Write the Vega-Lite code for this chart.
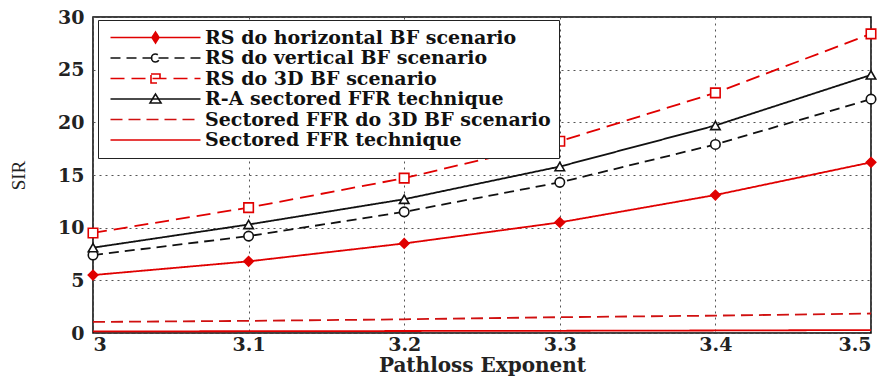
{
  "$schema": "https://vega.github.io/schema/vega-lite/v6.json",
  "width": 778,
  "height": 316,
  "autosize": {"type": "none"},
  "padding": {"left": 93, "top": 17, "right": 20, "bottom": 46},
  "background": "white",
  "config": {
    "view": {"stroke": "black", "strokeWidth": 1.5},
    "font": "DejaVu Serif",
    "axis": {
      "labelFont": "DejaVu Serif",
      "labelFontWeight": "bold",
      "labelFontSize": 19,
      "labelColor": "#222",
      "grid": true,
      "gridColor": "#555",
      "gridDash": [2, 4],
      "gridWidth": 1,
      "domain": false,
      "ticks": false,
      "titleColor": "#222"
    }
  },
  "data": {
    "values": [
      {"series": "RS do horizontal BF scenario", "x": 3.0, "y": 5.5},
      {"series": "RS do horizontal BF scenario", "x": 3.1, "y": 6.8},
      {"series": "RS do horizontal BF scenario", "x": 3.2, "y": 8.5},
      {"series": "RS do horizontal BF scenario", "x": 3.3, "y": 10.5},
      {"series": "RS do horizontal BF scenario", "x": 3.4, "y": 13.1},
      {"series": "RS do horizontal BF scenario", "x": 3.5, "y": 16.2},
      {"series": "RS do vertical BF scenario", "x": 3.0, "y": 7.4},
      {"series": "RS do vertical BF scenario", "x": 3.1, "y": 9.2},
      {"series": "RS do vertical BF scenario", "x": 3.2, "y": 11.5},
      {"series": "RS do vertical BF scenario", "x": 3.3, "y": 14.3},
      {"series": "RS do vertical BF scenario", "x": 3.4, "y": 17.9},
      {"series": "RS do vertical BF scenario", "x": 3.5, "y": 22.2},
      {"series": "RS do 3D BF scenario", "x": 3.0, "y": 9.5},
      {"series": "RS do 3D BF scenario", "x": 3.1, "y": 11.9},
      {"series": "RS do 3D BF scenario", "x": 3.2, "y": 14.7},
      {"series": "RS do 3D BF scenario", "x": 3.3, "y": 18.2},
      {"series": "RS do 3D BF scenario", "x": 3.4, "y": 22.8},
      {"series": "RS do 3D BF scenario", "x": 3.5, "y": 28.4},
      {"series": "R-A sectored FFR technique", "x": 3.0, "y": 8.1},
      {"series": "R-A sectored FFR technique", "x": 3.1, "y": 10.3},
      {"series": "R-A sectored FFR technique", "x": 3.2, "y": 12.7},
      {"series": "R-A sectored FFR technique", "x": 3.3, "y": 15.8},
      {"series": "R-A sectored FFR technique", "x": 3.4, "y": 19.7},
      {"series": "R-A sectored FFR technique", "x": 3.5, "y": 24.5},
      {"series": "Sectored FFR do 3D BF scenario", "x": 3.0, "y": 1.05},
      {"series": "Sectored FFR do 3D BF scenario", "x": 3.1, "y": 1.15},
      {"series": "Sectored FFR do 3D BF scenario", "x": 3.2, "y": 1.3},
      {"series": "Sectored FFR do 3D BF scenario", "x": 3.3, "y": 1.5},
      {"series": "Sectored FFR do 3D BF scenario", "x": 3.4, "y": 1.65},
      {"series": "Sectored FFR do 3D BF scenario", "x": 3.5, "y": 1.85},
      {"series": "Sectored FFR technique", "x": 3.0, "y": 0.15},
      {"series": "Sectored FFR technique", "x": 3.1, "y": 0.17},
      {"series": "Sectored FFR technique", "x": 3.2, "y": 0.19},
      {"series": "Sectored FFR technique", "x": 3.3, "y": 0.21},
      {"series": "Sectored FFR technique", "x": 3.4, "y": 0.24},
      {"series": "Sectored FFR technique", "x": 3.5, "y": 0.28}
    ]
  },
  "layer": [
    {
      "mark": {"type": "line", "strokeWidth": 1.8},
      "encoding": {
        "x": {
          "field": "x",
          "type": "quantitative",
          "scale": {"domain": [3, 3.5], "nice": false, "zero": false},
          "axis": {
            "values": [3, 3.1, 3.2, 3.3, 3.4, 3.5],
            "format": "~g",
            "title": "Pathloss Exponent",
            "titleFont": "DejaVu Serif",
            "titleFontWeight": "bold",
            "titleFontSize": 20,
            "labelPadding": 2,
            "titlePadding": 1
          }
        },
        "y": {
          "field": "y",
          "type": "quantitative",
          "scale": {"domain": [0, 30], "nice": false},
          "axis": {
            "values": [0, 5, 10, 15, 20, 25, 30],
            "title": "SIR",
            "titleFont": "Liberation Serif",
            "titleFontWeight": "normal",
            "titleFontSize": 19,
            "labelPadding": 9,
            "titlePadding": 29
          }
        },
        "color": {
          "field": "series",
          "type": "nominal",
          "scale": {
            "domain": ["RS do horizontal BF scenario", "RS do vertical BF scenario", "RS do 3D BF scenario", "R-A sectored FFR technique", "Sectored FFR do 3D BF scenario", "Sectored FFR technique"],
            "range": ["#e00000", "#111111", "#e00000", "#111111", "#d01010", "#e00000"]
          },
          "legend": {
            "title": null,
            "orient": "none",
            "legendX": 5,
            "legendY": 3,
            "direction": "vertical",
            "strokeColor": "#222",
            "fillColor": "white",
            "padding": 8,
            "labelFont": "DejaVu Serif",
            "labelFontWeight": "bold",
            "labelFontSize": 19,
            "labelColor": "#111",
            "symbolType": "stroke",
            "symbolSize": 100,
            "symbolStrokeWidth": 1.6,
            "labelOffset": 80,
            "rowPadding": 0.5,
            "labelLimit": 600,
            "encoding": {
              "symbols": {
                "shape": {"value": {"expr": "datum.value === 'RS do horizontal BF scenario' ? 'M-1,0H17M8,-1.1L8.7,0L8,1.1L7.3,0Z' : datum.value === 'RS do vertical BF scenario' ? 'M-1,0H17M7.2,0A0.8,0.8 0 1,0 8.8,0A0.8,0.8 0 1,0 7.2,0' : datum.value === 'RS do 3D BF scenario' ? 'M-1,0H17M7.1,-0.9H8.9V0.9H7.1Z' : datum.value === 'R-A sectored FFR technique' ? 'M-1,0H17M8,-1L9.1,0.8H6.9Z' : 'M-1,0H17'"}},
                "fill": {"value": {"expr": "datum.value === 'RS do horizontal BF scenario' ? '#e00000' : 'transparent'"}}
              }
            }
          }
        },
        "strokeDash": {
          "field": "series",
          "type": "nominal",
          "scale": {
            "domain": ["RS do horizontal BF scenario", "RS do vertical BF scenario", "RS do 3D BF scenario", "R-A sectored FFR technique", "Sectored FFR do 3D BF scenario", "Sectored FFR technique"],
            "range": [[1, 0], [10, 6], [14, 7], [1, 0], [12, 6], [1, 0]]
          }
        }
      }
    },
    {
      "transform": [
        {"filter": {"field": "series", "oneOf": ["RS do horizontal BF scenario", "RS do vertical BF scenario", "RS do 3D BF scenario", "R-A sectored FFR technique"]}}
      ],
      "mark": {"type": "point", "strokeWidth": 1.6, "size": 90, "opacity": 1},
      "encoding": {
        "x": {"field": "x", "type": "quantitative"},
        "y": {"field": "y", "type": "quantitative"},
        "shape": {
          "field": "series",
          "type": "nominal",
          "scale": {
            "domain": ["RS do horizontal BF scenario", "RS do vertical BF scenario", "RS do 3D BF scenario", "R-A sectored FFR technique"],
            "range": ["diamond", "circle", "square", "triangle-up"]
          },
          "legend": null
        },
        "stroke": {
          "field": "series",
          "type": "nominal",
          "scale": {
            "domain": ["RS do horizontal BF scenario", "RS do vertical BF scenario", "RS do 3D BF scenario", "R-A sectored FFR technique"],
            "range": ["#e00000", "#111111", "#e00000", "#111111"]
          },
          "legend": null
        },
        "fill": {
          "field": "series",
          "type": "nominal",
          "scale": {
            "domain": ["RS do horizontal BF scenario", "RS do vertical BF scenario", "RS do 3D BF scenario", "R-A sectored FFR technique"],
            "range": ["#e00000", "white", "white", "white"]
          },
          "legend": null
        }
      }
    }
  ]
}
